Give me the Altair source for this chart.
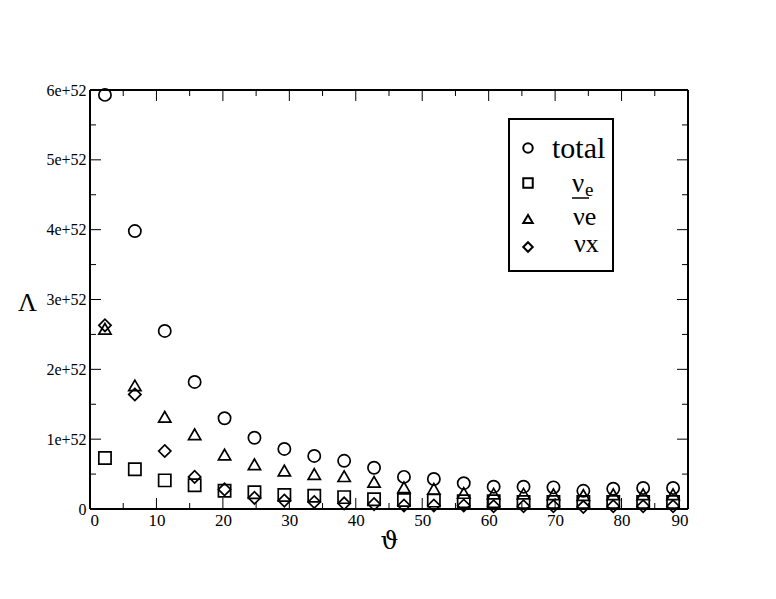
import altair as alt
import pandas as pd

# angle bins (degrees)
theta = [2.25, 6.75, 11.25, 15.75, 20.25, 24.75, 29.25, 33.75, 38.25, 42.75,
         47.25, 51.75, 56.25, 60.75, 65.25, 69.75, 74.25, 78.75, 83.25, 87.75]
# values in units of 1e52
total = [5.93, 3.98, 2.55, 1.82, 1.30, 1.02, 0.86, 0.76, 0.69, 0.59,
         0.46, 0.43, 0.37, 0.32, 0.32, 0.31, 0.26, 0.29, 0.30, 0.30]
nu_e = [0.73, 0.57, 0.41, 0.34, 0.26, 0.24, 0.20, 0.19, 0.17, 0.14,
        0.13, 0.12, 0.11, 0.11, 0.10, 0.10, 0.10, 0.10, 0.10, 0.10]
anu_e = [2.58, 1.77, 1.32, 1.07, 0.78, 0.64, 0.55, 0.50, 0.47, 0.39,
         0.31, 0.29, 0.23, 0.22, 0.22, 0.21, 0.20, 0.21, 0.21, 0.21]
nu_x = [2.63, 1.64, 0.83, 0.46, 0.28, 0.16, 0.12, 0.10, 0.08, 0.07,
        0.05, 0.05, 0.05, 0.04, 0.04, 0.04, 0.03, 0.04, 0.04, 0.04]

series = ["total", "nu_e", "anti_nu_e", "nu_x"]
shapes = ["circle", "square", "triangle-up", "diamond"]

x_major = [0, 10, 20, 30, 40, 50, 60, 70, 80, 90]
x_minor = [5, 15, 25, 35, 45, 55, 65, 75, 85]
y_major = [0, 1, 2, 3, 4, 5, 6]
y_minor = [0.5, 1.5, 2.5, 3.5, 4.5, 5.5]

W, H = 598, 419
MAJ, MIN = 11, 6

rows = []
for lab, vals in zip(series, [total, nu_e, anu_e, nu_x]):
    for t, v in zip(theta, vals):
        rows.append({"x": t, "y": v, "series": lab})
df = pd.DataFrame(rows)

serif = "Liberation Serif"

points = alt.Chart(df).mark_point(
    filled=False, size=150, strokeWidth=1.7, color="black", opacity=1
).encode(
    x=alt.X("x:Q", scale=alt.Scale(domain=[0, 90], nice=False),
            axis=alt.Axis(values=x_major, title="ϑ", grid=False, domain=False, ticks=False,
                          labelFont=serif, labelFontSize=17,
                          labelPadding=3, titleFont="DejaVu Serif", titleFontSize=25,
                          titleFontWeight="normal", titlePadding=0, labelColor="black",
                          titleColor="black")),
    y=alt.Y("y:Q", scale=alt.Scale(domain=[0, 6], nice=False),
            axis=alt.Axis(values=y_major, title="Λ", grid=False, domain=False, ticks=False,
                          labelExpr="datum.value == 0 ? '0' : datum.value + 'e+52'",
                          labelFont=serif, labelFontSize=16, labelPadding=4,
                          titleFont=serif, titleFontSize=26, titleFontWeight="normal",
                          titleAngle=0, titleX=-63, titleY=212, titleAlign="center",
                          titleBaseline="middle", labelColor="black", titleColor="black")),
    shape=alt.Shape("series:N", scale=alt.Scale(domain=series, range=shapes), legend=None),
)

xt_major = pd.DataFrame({"x": x_major})
xt_minor = pd.DataFrame({"x": x_minor})
yt_major = pd.DataFrame({"y": y_major})
yt_minor = pd.DataFrame({"y": y_minor})
one = pd.DataFrame({"k": [0]})

def xticks(d, length):
    bottom = alt.Chart(d).mark_rule(color="black", strokeWidth=1).encode(
        x="x:Q", y=alt.value(H), y2=alt.value(H - length))
    top = alt.Chart(d).mark_rule(color="black", strokeWidth=1).encode(
        x="x:Q", y=alt.value(0), y2=alt.value(length))
    return [bottom, top]

def yticks(d, length):
    left = alt.Chart(d).mark_rule(color="black", strokeWidth=1).encode(
        y="y:Q", x=alt.value(0), x2=alt.value(length))
    right = alt.Chart(d).mark_rule(color="black", strokeWidth=1).encode(
        y="y:Q", x=alt.value(W), x2=alt.value(W - length))
    return [left, right]

frame_style = dict(color="black", strokeWidth=2)
frame = [
    alt.Chart(one).mark_rule(**frame_style).encode(x=alt.value(0), y=alt.value(0), y2=alt.value(H)),
    alt.Chart(one).mark_rule(**frame_style).encode(x=alt.value(W), y=alt.value(0), y2=alt.value(H)),
    alt.Chart(one).mark_rule(**frame_style).encode(y=alt.value(0), x=alt.value(0), x2=alt.value(W)),
    alt.Chart(one).mark_rule(**frame_style).encode(y=alt.value(H), x=alt.value(0), x2=alt.value(W)),
]

# ---- hand-drawn legend box (layout only) ----
LX0, LX1, LY0, LY1 = 419, 523, 29, 181
SYM_X = 438
row_y = [58, 93, 129, 157]
legend = [alt.Chart(one).mark_rect(fill="white", stroke="black", strokeWidth=2).encode(
    x=alt.value(LX0), x2=alt.value(LX1), y=alt.value(LY0), y2=alt.value(LY1))]
for shp, yy in zip(shapes, row_y):
    legend.append(alt.Chart(one).mark_point(shape=shp, filled=False, size=90, strokeWidth=2,
                                            color="black", opacity=1).encode(
        x=alt.value(SYM_X), y=alt.value(yy)))

def txt(s, x, y, size):
    return alt.Chart(one).mark_text(align="left", baseline="alphabetic", font=serif,
                                    fontSize=size, color="black").encode(
        x=alt.value(x), y=alt.value(y), text=alt.value(s))

legend += [
    txt("total", 462, 68, 30),
    txt("ν", 482, 102, 27),
    txt("e", 495, 106, 19),
    txt("νe", 483, 135, 26),
    txt("νx", 484, 162, 26),
    alt.Chart(one).mark_rule(color="black", strokeWidth=1.5).encode(
        x=alt.value(482), x2=alt.value(499), y=alt.value(108)),
]

layers = ([points] + xticks(xt_major, MAJ) + xticks(xt_minor, MIN) + yticks(yt_major, MAJ)
          + yticks(yt_minor, MIN) + frame + legend)

chart = alt.layer(*layers).properties(
    width=W, height=H,
    autosize=alt.AutoSizeParams(type="none"),
    padding={"left": 82, "top": 82, "right": 80, "bottom": 82},
).configure_view(
    stroke=None
).configure_axis(
    domain=False, ticks=False, grid=False
).configure(background="white")

chart.save("out.html", embed_options={"renderer": "svg", "actions": False})
